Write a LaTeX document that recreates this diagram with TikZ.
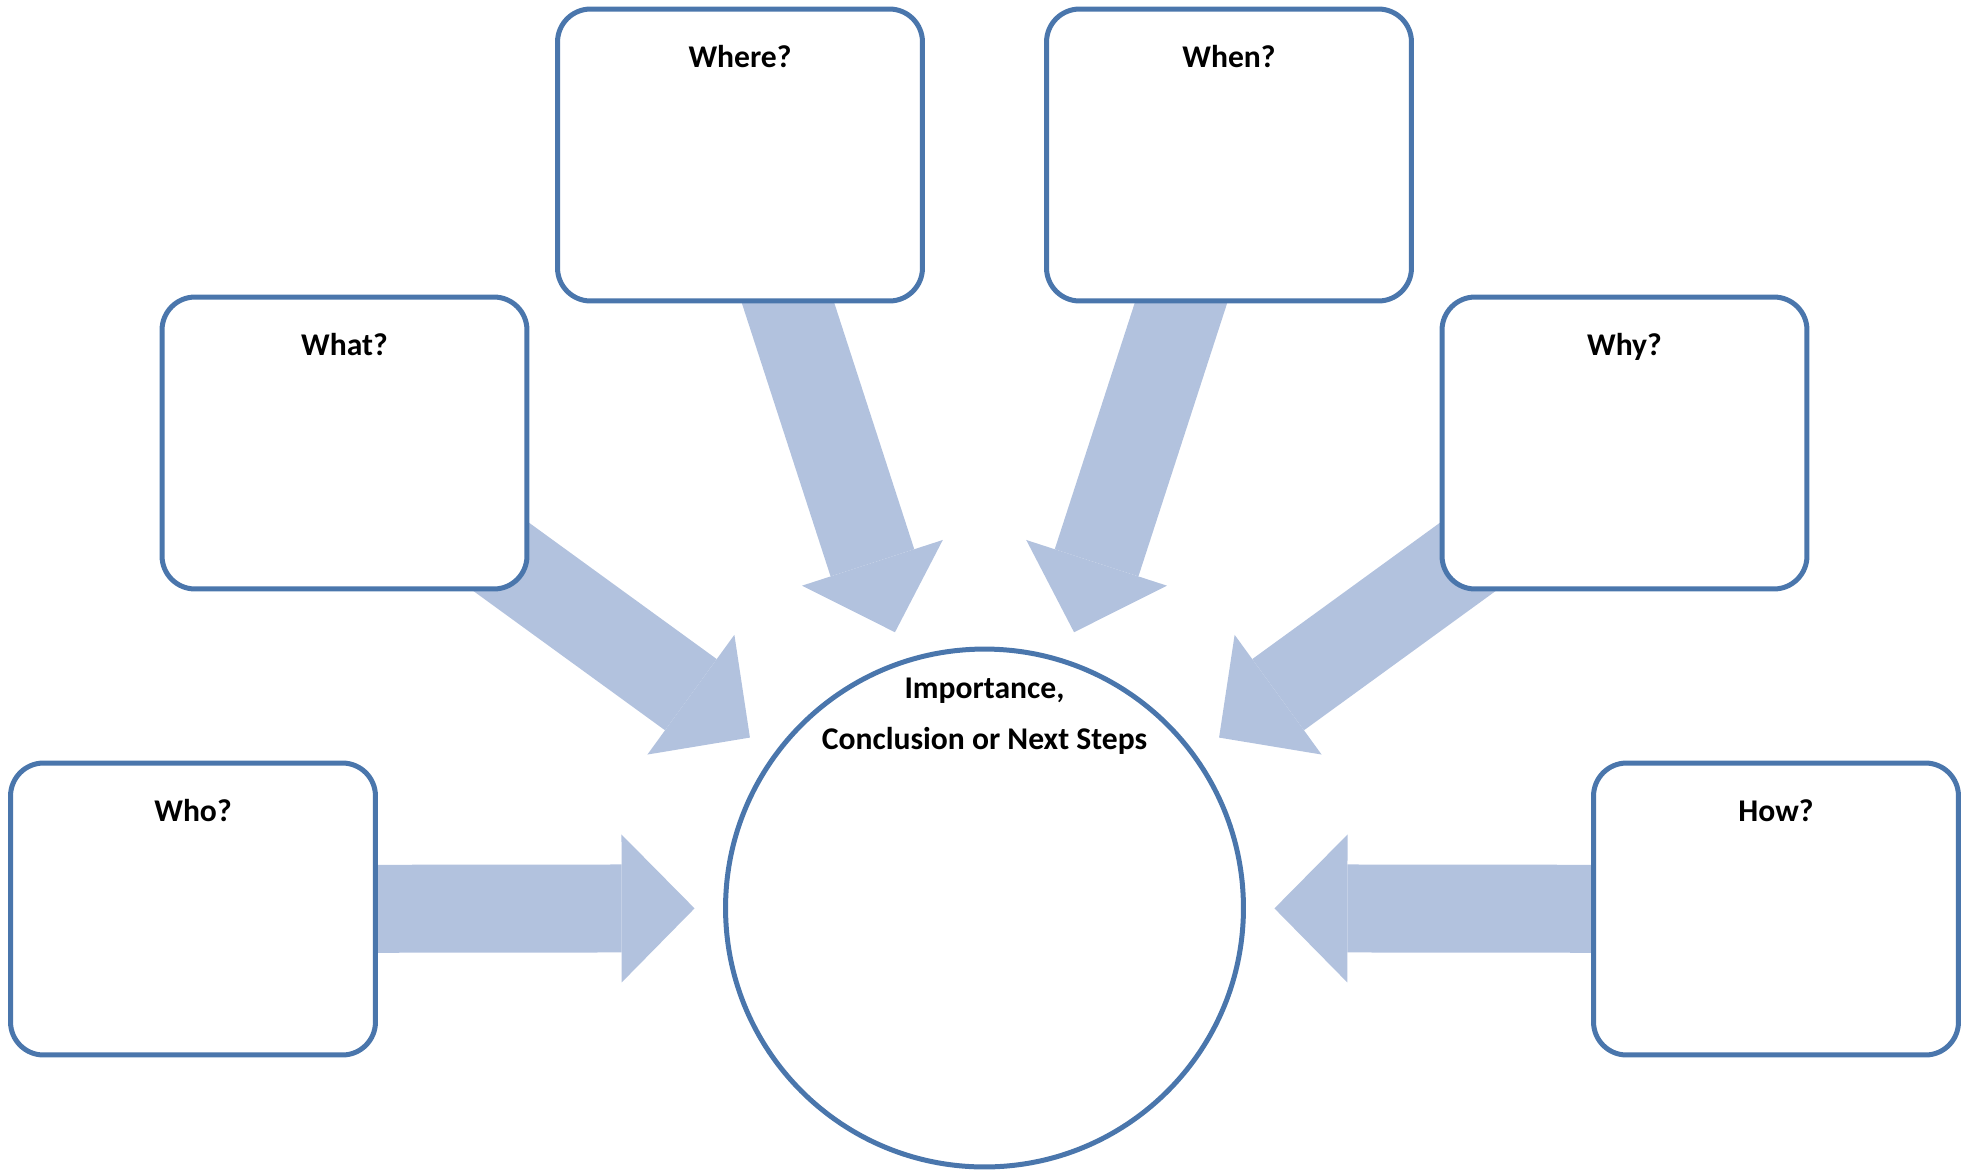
\documentclass[tikz,border=0pt]{standalone}
\usepackage{fontspec}
\setmainfont{Carlito}
\usetikzlibrary{arrows.meta,backgrounds,calc,positioning}
\definecolor{boxblue}{RGB}{74,118,172}
\definecolor{arrowblue}{RGB}{178,194,222}

\begin{document}
\begin{tikzpicture}[x=0.02cm,y=-0.02cm,
  font=\bfseries\fontsize{18}{29}\selectfont,
  qbox/.style={draw=boxblue,line width=0.1cm,fill=white,rounded corners=0.66cm,
    minimum width=7.3cm,minimum height=5.84cm,inner sep=0pt,outer sep=0pt},
  qlabel/.style={anchor=base,yshift=-1.16cm},
  bigarrow/.style={draw=arrowblue,line width=1.76cm,
    -{Triangle[width=2.96cm,length=1.46cm,line width=0pt,fill=arrowblue]}}]
\useasboundingbox (0,0) rectangle (1971,1171);
% centre
\node[circle,draw=boxblue,line width=0.1cm,fill=white,minimum size=10.36cm,inner sep=0pt,outer sep=0pt,
  label={[anchor=base,yshift=-2.0cm,align=center]north:{Importance,\\Conclusion or Next Steps}}] (circ) at (984.5,908) {};
% question boxes
\node[qbox,label={[qlabel]north:Who?}] (who) at (193,909) {};
\node[qbox,label={[qlabel]north:What?}] (what) at (344.5,443) {};
\node[qbox,label={[qlabel]north:Where?}] (where) at (740,155) {};
\node[qbox,label={[qlabel]north:When?}] (when) at (1229,155) {};
\node[qbox,label={[qlabel]north:Why?}] (why) at (1624.5,443) {};
\node[qbox,label={[qlabel]north:How?}] (how) at (1776,909) {};
% arrow tips
\coordinate (whoTip) at ($(circ.center)!5.8cm!(who.center)$);
\coordinate (whatTip) at ($(circ.center)!5.8cm!(what.center)$);
\coordinate (whereTip) at ($(circ.center)!5.8cm!(where.center)$);
\coordinate (whenTip) at ($(circ.center)!5.8cm!(when.center)$);
\coordinate (whyTip) at ($(circ.center)!5.8cm!(why.center)$);
\coordinate (howTip) at ($(circ.center)!5.8cm!(how.center)$);
\begin{scope}[on background layer]
\draw[bigarrow] (who.center) -- (whoTip);
\draw[bigarrow] (what.center) -- (whatTip);
\draw[bigarrow] (where.center) -- (whereTip);
\draw[bigarrow] (when.center) -- (whenTip);
\draw[bigarrow] (why.center) -- (whyTip);
\draw[bigarrow] (how.center) -- (howTip);
\end{scope}
\end{tikzpicture}
\end{document}
